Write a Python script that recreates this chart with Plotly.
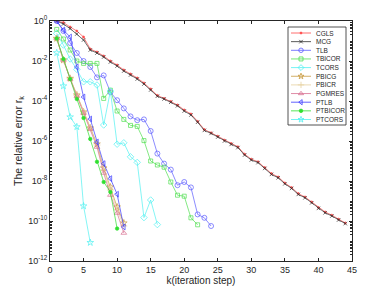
import plotly.graph_objects as go

# ---------------- data (log10 of relative error) ----------------
k_cgls = list(range(1, 45))
cgls_exp = [0, -0.08, -0.3, -0.5, -0.8, -1.4, -1.55, -1.75, -2.0, -2.2, -2.45, -2.65, -2.85,
            -3.1, -3.4, -3.72, -3.87, -4.02, -4.2, -4.45, -4.65, -5.02, -5.43, -5.59, -5.76,
            -5.96, -6.13, -6.29, -6.66, -6.91, -7.04, -7.33, -7.63, -7.8, -8.1, -8.33, -8.63,
            -8.8, -9.05, -9.33, -9.55, -9.71, -9.91, -10.1]
mcg_exp = [0, -0.15, -0.38, -0.65, -0.95, -1.45, -1.6, -1.8, -2.05, -2.25, -2.5, -2.7, -2.9,
           -3.15, -3.45, -3.76, -3.9, -4.06, -4.24, -4.5, -4.7, -5.06, -5.47, -5.62, -5.8,
           -6.0, -6.17, -6.33, -6.7, -6.95, -7.08, -7.37, -7.67, -7.84, -8.14, -8.37, -8.67,
           -8.84, -9.09, -9.37, -9.59, -9.75, -9.95, -10.13]
k_tlb = list(range(1, 25))
tlb_exp = [0, -0.5, -1.1, -1.6, -2.0, -2.3, -2.82, -2.72, -3.56, -3.96, -4.37, -4.77, -4.96,
           -4.92, -5.5, -6.63, -7.13, -7.43, -8.21, -8.05, -8.32, -9.67, -9.84, -10.25]
k_tbicor = list(range(1, 23))
tbicor_exp = [-0.42, -0.9, -1.45, -2.0, -2.12, -2.12, -2.12, -3.87, -3.46, -4.5, -4.92, -5.22,
              -5.27, -5.98, -7.0, -7.2, -7.31, -8.05, -8.71, -8.76, -9.84, -10.19]
k_tcors = list(range(1, 17))
tcors_exp = [-0.62, -1.2, -1.9, -2.42, -3.04, -3.04, -3.2, -5.2, -3.5, -6.16, -6.09, -6.79,
             -7.07, -9.83, -8.95, -10.18]
k_p11 = list(range(1, 12))
pbicg_exp = [-0.87, -1.95, -2.87, -3.7, -4.55, -5.35, -6.15, -7.35, -8.3, -9.3, -10.1]
pbicr_exp = [-0.87, -1.95, -2.87, -3.72, -4.55, -5.35, -6.2, -7.45, -8.45, -9.45, -10.25]
pgmres_exp = [-0.87, -1.95, -2.9, -3.75, -4.6, -5.4, -6.3, -7.6, -8.7, -9.6, -10.6]
ptlb_exp = [0, -0.45, -0.8, -2.3, -3.8, -4.9, -6.05, -7.13, -7.88, -8.66, -10.3]
k_ptbicor = list(range(1, 11))
ptbicor_exp = [-0.87, -1.9, -2.9, -3.9, -4.85, -5.9, -7.04, -8.05, -8.55, -10.38]
k_ptcors = list(range(1, 7))
ptcors_exp = [-1.59, -3.25, -4.8, -5.29, -9.25, -11.08]

names = ["CGLS", "MCG", "TLB", "TBICOR", "TCORS", "PBICG", "PBICR", "PGMRES", "PTLB",
         "PTBICOR", "PTCORS"]
xs = [k_cgls, k_cgls, k_tlb, k_tbicor, k_tcors, k_p11, k_p11, k_p11, k_p11, k_ptbicor, k_ptcors]
exps = [cgls_exp, mcg_exp, tlb_exp, tbicor_exp, tcors_exp, pbicg_exp, pbicr_exp, pgmres_exp,
        ptlb_exp, ptbicor_exp, ptcors_exp]

x_ticks = [0, 5, 10, 15, 20, 25, 30, 35, 40, 45]
y_decades = list(range(-12, 1, 2))

# ---------------- styles ----------------
colors = ["#ff4a4a", "#303030", "#5a5aff", "#50e050", "#50f0f0", "#c89a40", "#e6d0a0",
          "#d87090", "#3a3aff", "#30e030", "#50f0f0"]
symbols = ["circle", "x-thin-open", "circle-open", "square-open", "diamond-open", "star-open",
           "cross-thin-open", "triangle-up-open", "triangle-left-open", "circle", "star-open"]
sizes = [2, 3.5, 5, 4, 5, 5, 5, 5, 5, 3.5, 5]

fig = go.Figure()
for nm, xv, ev, c, s, sz in zip(names, xs, exps, colors, symbols, sizes):
    fig.add_trace(go.Scatter(
        x=xv, y=[10 ** e for e in ev], mode="lines+markers", name=nm,
        line=dict(color=c, width=0.7),
        marker=dict(symbol=s, size=sz, color=c, line=dict(color=c, width=0.7)),
        showlegend=False))

# ---------------- custom compact legend (pixel coords inside plot area) ----------------
W, H = 302, 240
leg_x0, leg_x1 = 238, 296
leg_y0, leg_y1 = 6, 104
row0, rowstep = 12, 8.65
for i, (nm, c, s, sz) in enumerate(zip(names, colors, symbols, sizes)):
    yy = row0 + i * rowstep
    fig.add_trace(go.Scatter(
        x=[241, 261], y=[yy, yy], xaxis="x2", yaxis="y2", mode="lines",
        line=dict(color=c, width=0.8), showlegend=False, hoverinfo="skip"))
    fig.add_trace(go.Scatter(
        x=[251], y=[yy], xaxis="x2", yaxis="y2", mode="markers",
        marker=dict(symbol=s, size=min(sz, 4.5), color=c, line=dict(color=c, width=0.8)),
        showlegend=False, hoverinfo="skip"))
    fig.add_annotation(x=264, y=yy, xref="x2", yref="y2", text=nm, showarrow=False,
                       xanchor="left", yanchor="middle",
                       font=dict(size=6.5, color="#262626", family="Liberation Sans"))
fig.add_shape(type="rect", xref="x2", yref="y2", x0=leg_x0, x1=leg_x1, y0=leg_y0, y1=leg_y1,
              line=dict(color="#262626", width=0.8), fillcolor="rgba(0,0,0,0)", layer="below")

minor_vals = [m * 10.0 ** d for d in range(-12, 0) for m in range(2, 10)] + \
             [10.0 ** d for d in range(-11, 0, 2)]

axis_common = dict(showgrid=False, zeroline=False, showline=True, linecolor="#262626",
                   linewidth=0.8, mirror="allticks", ticks="inside", tickcolor="#262626",
                   ticklen=3, tickwidth=0.6, automargin=False,
                   tickfont=dict(size=9, color="#262626", family="Liberation Sans"))

fig.update_layout(
    width=389, height=292,
    margin=dict(l=50, r=37, t=21, b=31),
    paper_bgcolor="white", plot_bgcolor="white",
    font=dict(family="Liberation Sans", color="#262626"),
    xaxis=dict(range=[0, 45], tickvals=x_ticks, ticktext=[str(v) for v in x_ticks],
               title=dict(text="k(iteration step)", standoff=2,
                          font=dict(size=10, color="#262626")),
               **axis_common),
    yaxis=dict(type="log", range=[-12, 0], tickvals=[10.0 ** d for d in y_decades],
               ticktext=["10<sup>%d</sup>" % d for d in y_decades],
               minor=dict(tickvals=minor_vals, ticks="inside", ticklen=1.8,
                          tickcolor="#262626", tickwidth=0.5),
               title=dict(text="The relative error r<sub>k</sub>", standoff=3,
                          font=dict(size=10.5, color="#262626")),
               **axis_common),
    xaxis2=dict(range=[0, W], domain=[0, 1], anchor="y2", overlaying="x", visible=False,
                fixedrange=True),
    yaxis2=dict(range=[H, 0], domain=[0, 1], anchor="x2", overlaying="y", visible=False,
                fixedrange=True),
)

fig.write_html("out.html", config={"displayModeBar": False},
               post_script="document.body.style.margin='0';")
